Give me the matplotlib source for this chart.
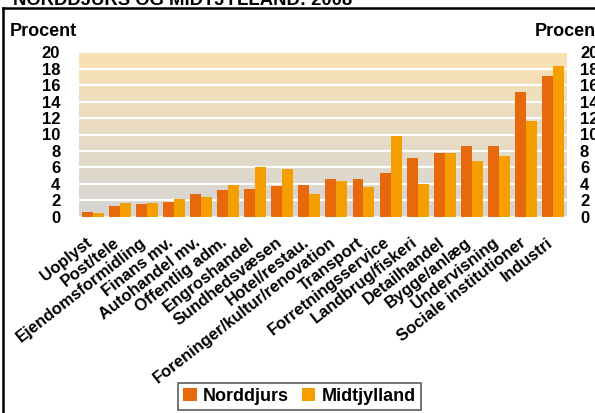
import matplotlib.pyplot as plt
import matplotlib.colors as mcolors
import matplotlib.transforms as mtransforms
import numpy as np

categories = ["Uoplyst", "Post/tele", "Ejendomsformidling", "Finans mv.", "Autohandel mv.",
              "Offentlig adm.", "Engroshandel", "Sundhedsvæsen", "Hotel/restau.",
              "Foreninger/kultur/renovation", "Transport", "Forretningsservice",
              "Landbrug/fiskeri", "Detailhandel", "Bygge/anlæg", "Undervisning",
              "Sociale institutioner", "Industri"]
norddjurs = [0.6, 1.3, 1.5, 1.8, 2.75, 3.2, 3.35, 3.7, 3.8, 4.6, 4.6, 5.3, 7.1, 7.7, 8.6, 8.6, 15.2, 17.1]
midtjylland = [0.45, 1.7, 1.7, 2.1, 2.4, 3.8, 6.1, 5.8, 2.75, 4.3, 3.6, 9.8, 4.0, 7.7, 6.75, 7.35, 11.7, 18.3]
yticks = [0, 2, 4, 6, 8, 10, 12, 14, 16, 18, 20]

plt.rcParams['font.family'] = ['Liberation Sans', 'DejaVu Sans']
plt.rcParams['font.weight'] = 'bold'

c_nord = '#E8690C'
c_midt = '#F59E00'

fig = plt.figure(figsize=(5.95, 4.13), dpi=100)
ax = fig.add_axes([79 / 595, 1 - 216.7 / 413, (566.7 - 79) / 595, (216.7 - 52.3) / 413])

# background gradient: peach at top, grey at bottom
top = np.array(mcolors.to_rgb('#FAE1B2'))
bottom = np.array(mcolors.to_rgb('#D5D5D5'))
t = np.linspace(0, 1, 256)[:, None]
grad = (top * (1 - t) + bottom * t)[:, None, :]
ax.imshow(grad, extent=[0, 1, 0, 1], transform=ax.transAxes, aspect='auto', zorder=0)

x = np.arange(len(categories))
w = 0.405
ax.bar(x - w / 2, norddjurs, width=w, color=c_nord, zorder=3, label='Norddjurs')
ax.bar(x + w / 2, midtjylland, width=w, color=c_midt, zorder=3, label='Midtjylland')

ax.set_xlim(-0.5, len(categories) - 0.5)
ax.set_ylim(0, 20)
ax.set_yticks(yticks)
ax.yaxis.grid(True, color='white', linewidth=1.6, zorder=1)
ax.set_axisbelow(False)
for s in ax.spines.values():
    s.set_visible(False)

ax.tick_params(axis='y', length=0, pad=13.5, labelsize=12)
ax.set_xticks(x)
ax.set_xticklabels(categories, rotation=38, ha='right', rotation_mode='anchor', fontsize=12)
ax.tick_params(axis='x', length=0, pad=13)
shift = mtransforms.ScaledTranslation(-7 / 100, 0, fig.dpi_scale_trans)
for lbl in ax.get_xticklabels():
    lbl.set_transform(lbl.get_transform() + shift)

ax2 = ax.twinx()
ax2.set_ylim(0, 20)
ax2.set_yticks(yticks)
ax2.tick_params(axis='y', length=0, pad=9.5, labelsize=12)
for s in ax2.spines.values():
    s.set_visible(False)

fig.text(10 / 595, 1 - 31 / 413, 'Procent', fontsize=13, fontweight='bold', va='center')
fig.text(535 / 595, 1 - 31 / 413, 'Procent', fontsize=13, fontweight='bold', va='center')
fig.text(13 / 595, 1 - 5 / 413, 'NORDDJURS OG MIDTJYLLAND: 2008', fontsize=13.3,
         fontweight='bold', va='baseline')

# frame lines of the original panel
fig.add_artist(plt.Line2D([3 / 595, 1], [1 - 8 / 413, 1 - 8 / 413], color='black', linewidth=1.8,
                          transform=fig.transFigure))
fig.add_artist(plt.Line2D([3 / 595, 3 / 595], [0, 1 - 8 / 413], color='black', linewidth=1.8,
                          transform=fig.transFigure))

leg = fig.legend(loc='center', bbox_to_anchor=(299.5 / 595, 1 - 396.5 / 413), ncol=2,
                 fontsize=13, frameon=True, fancybox=False, handlelength=0.75, handleheight=0.75,
                 handletextpad=0.35, columnspacing=0.7, borderpad=0.3, borderaxespad=0)
leg.get_frame().set_edgecolor('#333333')
leg.get_frame().set_linewidth(1.2)

fig.savefig('out.png', dpi=100)
